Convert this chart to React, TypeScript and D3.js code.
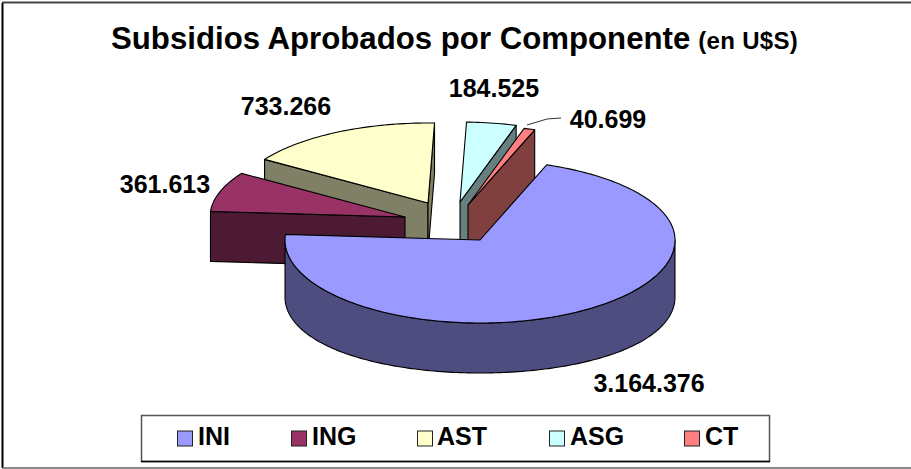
import React from "react";
import * as d3 from "d3";

const categories = ["INI", "ING", "AST", "ASG", "CT"];
const values = [3164376, 361613, 733266, 184525, 40699];
const valueLabels = ["3.164.376", "361.613", "733.266", "184.525", "40.699"];
const topColors = ["#9999ff", "#993366", "#ffffcc", "#ccffff", "#ff8080"];
const wallColors = ["#4d4d80", "#4d1a33", "#808066", "#668080", "#804040"];

const W = 911, H = 469;
const CX = 480, CY = 240, RX = 195, RY_FRONT = 83, RY_BACK = 80, DEPTH = 50, SIDE_EXTRA = 7;
const explode: [number, number][] = [[0, 0], [-75, -23], [-52, -37], [-20, -38], [-12, -35]];
const labelPos: [number, number][] = [[649, 392], [165, 193], [286, 115], [494, 97], [608, 128]];
const legendX = [177, 291, 417, 549, 684];
const legendTextX = [198, 312, 437, 570, 705];

const ang = d3.pie<number>().sort(null).value(d => d).startAngle(20 * Math.PI / 180).endAngle(380 * Math.PI / 180)(values);

const pt = (a: number, ox: number, oy: number, dz = 0): [number, number] => {
  const c = Math.cos(a);
  return [CX + ox + RX * Math.sin(a), CY + oy - (c > 0 ? RY_BACK : RY_FRONT) * c + dz];
};
const line = d3.line();
function arcPts(a0: number, a1: number, ox: number, oy: number, dz = 0, sideExtra = 0) {
  const n = Math.max(2, Math.ceil(Math.abs(a1 - a0) / 0.02));
  return d3.range(n + 1).map(i => {
    const a = a0 + (a1 - a0) * i / n;
    return pt(a, ox, oy, dz + sideExtra * Math.sin(a) ** 2);
  });
}

function Slice({ i }: { i: number }) {
  const { startAngle: a0, endAngle: a1 } = ang[i];
  const [ox, oy] = explode[i];
  const apex: [number, number] = [CX + ox, CY + oy];
  const apexB: [number, number] = [apex[0], apex[1] + DEPTH];
  const stroke = { stroke: "#000", strokeWidth: 1.1, strokeLinejoin: "round" as const };
  const faces: [number, number][][] = [];
  if (Math.sin(a0) < 0) faces.push([apex, pt(a0, ox, oy), pt(a0, ox, oy, DEPTH), apexB]);
  if (Math.sin(a1) > 0) faces.push([apex, pt(a1, ox, oy), pt(a1, ox, oy, DEPTH), apexB]);
  const walls: [number, number][][] = [];
  const s = Math.max(a0, Math.PI / 2), e = Math.min(a1, 3 * Math.PI / 2);
  if (e > s) walls.push([...arcPts(s, e, ox, oy), ...arcPts(e, s, ox, oy, DEPTH, SIDE_EXTRA)]);
  return (
    <g>
      {faces.map((f, k) => <path key={k} d={line(f) + "Z"} fill={wallColors[i]} {...stroke} />)}
      {walls.map((f, k) => <path key={k} d={line(f) + "Z"} fill={wallColors[i]} {...stroke} />)}
      <path d={line([apex, ...arcPts(a0, a1, ox, oy)]) + "Z"} fill={topColors[i]} {...stroke} />
    </g>
  );
}

const textStyle = { fontFamily: "'Liberation Sans', Arial, sans-serif", fontWeight: 700 };

export default function App() {
  return (
    <svg width={W} height={H} viewBox={`0 0 ${W} ${H}`} style={{ position: "absolute", left: 0, top: 0, background: "#fff" }}>
      <path d={line([[2.5, 3], [2.5, 468]])!} stroke="#000" strokeWidth={2} fill="none" />
      <path d={line([[2, 2.5], [W, 2.5]])!} stroke="#444" strokeWidth={2} fill="none" />
      <path d={line([[2, 468], [W, 468]])!} stroke="#666" strokeWidth={1.5} fill="none" />
      <text x={111} y={49} fontSize={31.2} {...textStyle} fill="#000">
        Subsidios Aprobados por Componente
        <tspan fontSize={24} dx={8} letterSpacing={0.3}>(en U$S)</tspan>
      </text>
      {[3, 4, 2, 1, 0].map(i => <Slice key={i} i={i} />)}
      <path d={line([[527, 125], [547, 119], [561, 118]])!} fill="none" stroke="#000" strokeWidth={0.8} />
      {valueLabels.map((l, i) => (
        <text key={l} x={labelPos[i][0]} y={labelPos[i][1]} textAnchor="middle" fontSize={25} {...textStyle} fill="#000">{l}</text>
      ))}
      <rect x={141.5} y={415.5} width={628} height={46} fill="#fff" stroke="#555" strokeWidth={1.5} />
      <path d={line([[141, 461.5], [770, 461.5]])!} stroke="#000" strokeWidth={1.5} fill="none" />
      {categories.map((c, i) => (
        <g key={c}>
          <rect x={legendX[i] + 0.5} y={431} width={15} height={15} fill={topColors[i]} stroke="#222" strokeWidth={1} />
          <text x={legendTextX[i]} y={445} fontSize={25} {...textStyle} fill="#000">{c}</text>
        </g>
      ))}
    </svg>
  );
}
